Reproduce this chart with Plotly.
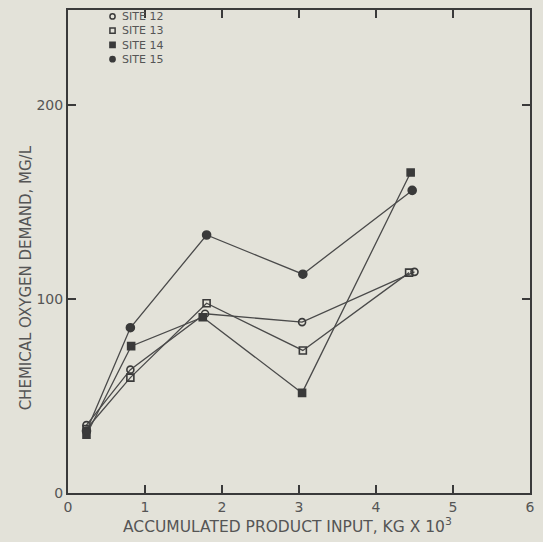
import plotly.graph_objects as go

# Data (accumulated product input, kg x 10^3 ; COD mg/L)
site12_x = [0.24, 0.81, 1.78, 3.04, 4.50]
site12_y = [35, 63.6, 92.4, 88.1, 114]
site13_x = [0.24, 0.81, 1.80, 3.05, 4.43]
site13_y = [33, 59.5, 97.8, 73.5, 113.6]
site14_x = [0.24, 0.82, 1.75, 3.04, 4.45]
site14_y = [30, 75.7, 90.6, 51.6, 165.2]
site15_x = [0.24, 0.81, 1.80, 3.05, 4.47]
site15_y = [32, 85.2, 133, 112.8, 156]

series_names = ["SITE 12", "SITE 13", "SITE 14", "SITE 15"]
xticks = [0, 1, 2, 3, 4, 5, 6]
yticks = [0, 100, 200]

ink = "#3a3a3a"
txt = "#555555"
bg = "#e3e2d9"
font = "DejaVu Sans"

styles = [
    dict(symbol="circle-open", size=7, shape="circle", filled=False),
    dict(symbol="square-open", size=7, shape="rect", filled=False),
    dict(symbol="square", size=7, shape="rect", filled=True),
    dict(symbol="circle", size=8, shape="circle", filled=True),
]
data = [(site12_x, site12_y), (site13_x, site13_y), (site14_x, site14_y), (site15_x, site15_y)]

fig = go.Figure()
for (xs, ys), st, nm in zip(data, styles, series_names):
    fig.add_trace(go.Scatter(
        x=xs, y=ys, mode="lines+markers", name=nm, showlegend=False,
        line=dict(color="#4a4a4a", width=1.3),
        marker=dict(symbol=st["symbol"], size=st["size"], color=ink,
                    line=dict(color=ink, width=1.6)),
    ))

# Key (drawn as layout decorations in the upper-left corner)
L, T, W, H = 68, 8, 467, 485          # plot-area pixel box (from margins)
key_font = 11
key_step = key_font * 1.3             # plotly's multi-line spacing
key_top = 14.5
key_marker_px = 113
key_text_px = 122
shapes = []
annotations = []
for i, st in enumerate(styles):
    ry = key_top + i * key_step
    shapes.append(dict(
        type=st["shape"], xref="paper", yref="paper",
        xsizemode="pixel", ysizemode="pixel",
        xanchor=(key_marker_px - L) / W, yanchor=(T + H - ry) / H,
        x0=-2.6, x1=2.6, y0=-2.6, y1=2.6,
        line=dict(color=ink, width=1.5),
        fillcolor=ink if st["filled"] else bg,
    ))
annotations.append(dict(
    text="<br>".join(series_names), align="left",
    xref="paper", yref="paper", x=(key_text_px - L) / W,
    y=(T + H - (key_top + 1.5 * key_step)) / H,
    xanchor="left", yanchor="middle", showarrow=False, borderpad=0,
    font=dict(family=font, size=key_font, color=txt),
))

# Axis titles
annotations.append(dict(
    text="ACCUMULATED PRODUCT INPUT, KG X 10<sup>3</sup>",
    xref="paper", yref="paper", x=(290 - L) / W, y=(T + H - 526) / H,
    xanchor="center", yanchor="middle", showarrow=False,
    font=dict(family=font, size=15.5, color=txt),
))
annotations.append(dict(
    text="CHEMICAL OXYGEN DEMAND, MG/L",
    xref="paper", yref="paper", x=(25 - L) / W, y=(T + H - 277) / H,
    xanchor="center", yanchor="middle", showarrow=False, textangle=-90,
    font=dict(family=font, size=15, color=txt),
))

axis_common = dict(
    showgrid=False, zeroline=False, showline=True, linecolor=ink, linewidth=2,
    mirror="ticks", ticks="inside", ticklen=8, tickwidth=2, tickcolor=ink,
    tickfont=dict(family=font, size=14, color=txt),
)

fig.update_layout(
    width=543, height=542,
    margin=dict(l=L, r=543 - L - W, t=T, b=542 - T - H),
    paper_bgcolor=bg, plot_bgcolor=bg,
    xaxis=dict(range=[0, 6], tickvals=xticks, ticktext=[str(v) for v in xticks],
               **axis_common),
    yaxis=dict(range=[0, 249], tickvals=yticks, ticktext=[str(v) for v in yticks],
               **axis_common),
    shapes=shapes,
    annotations=annotations,
    showlegend=False,
)

fig.write_html("out.html")
